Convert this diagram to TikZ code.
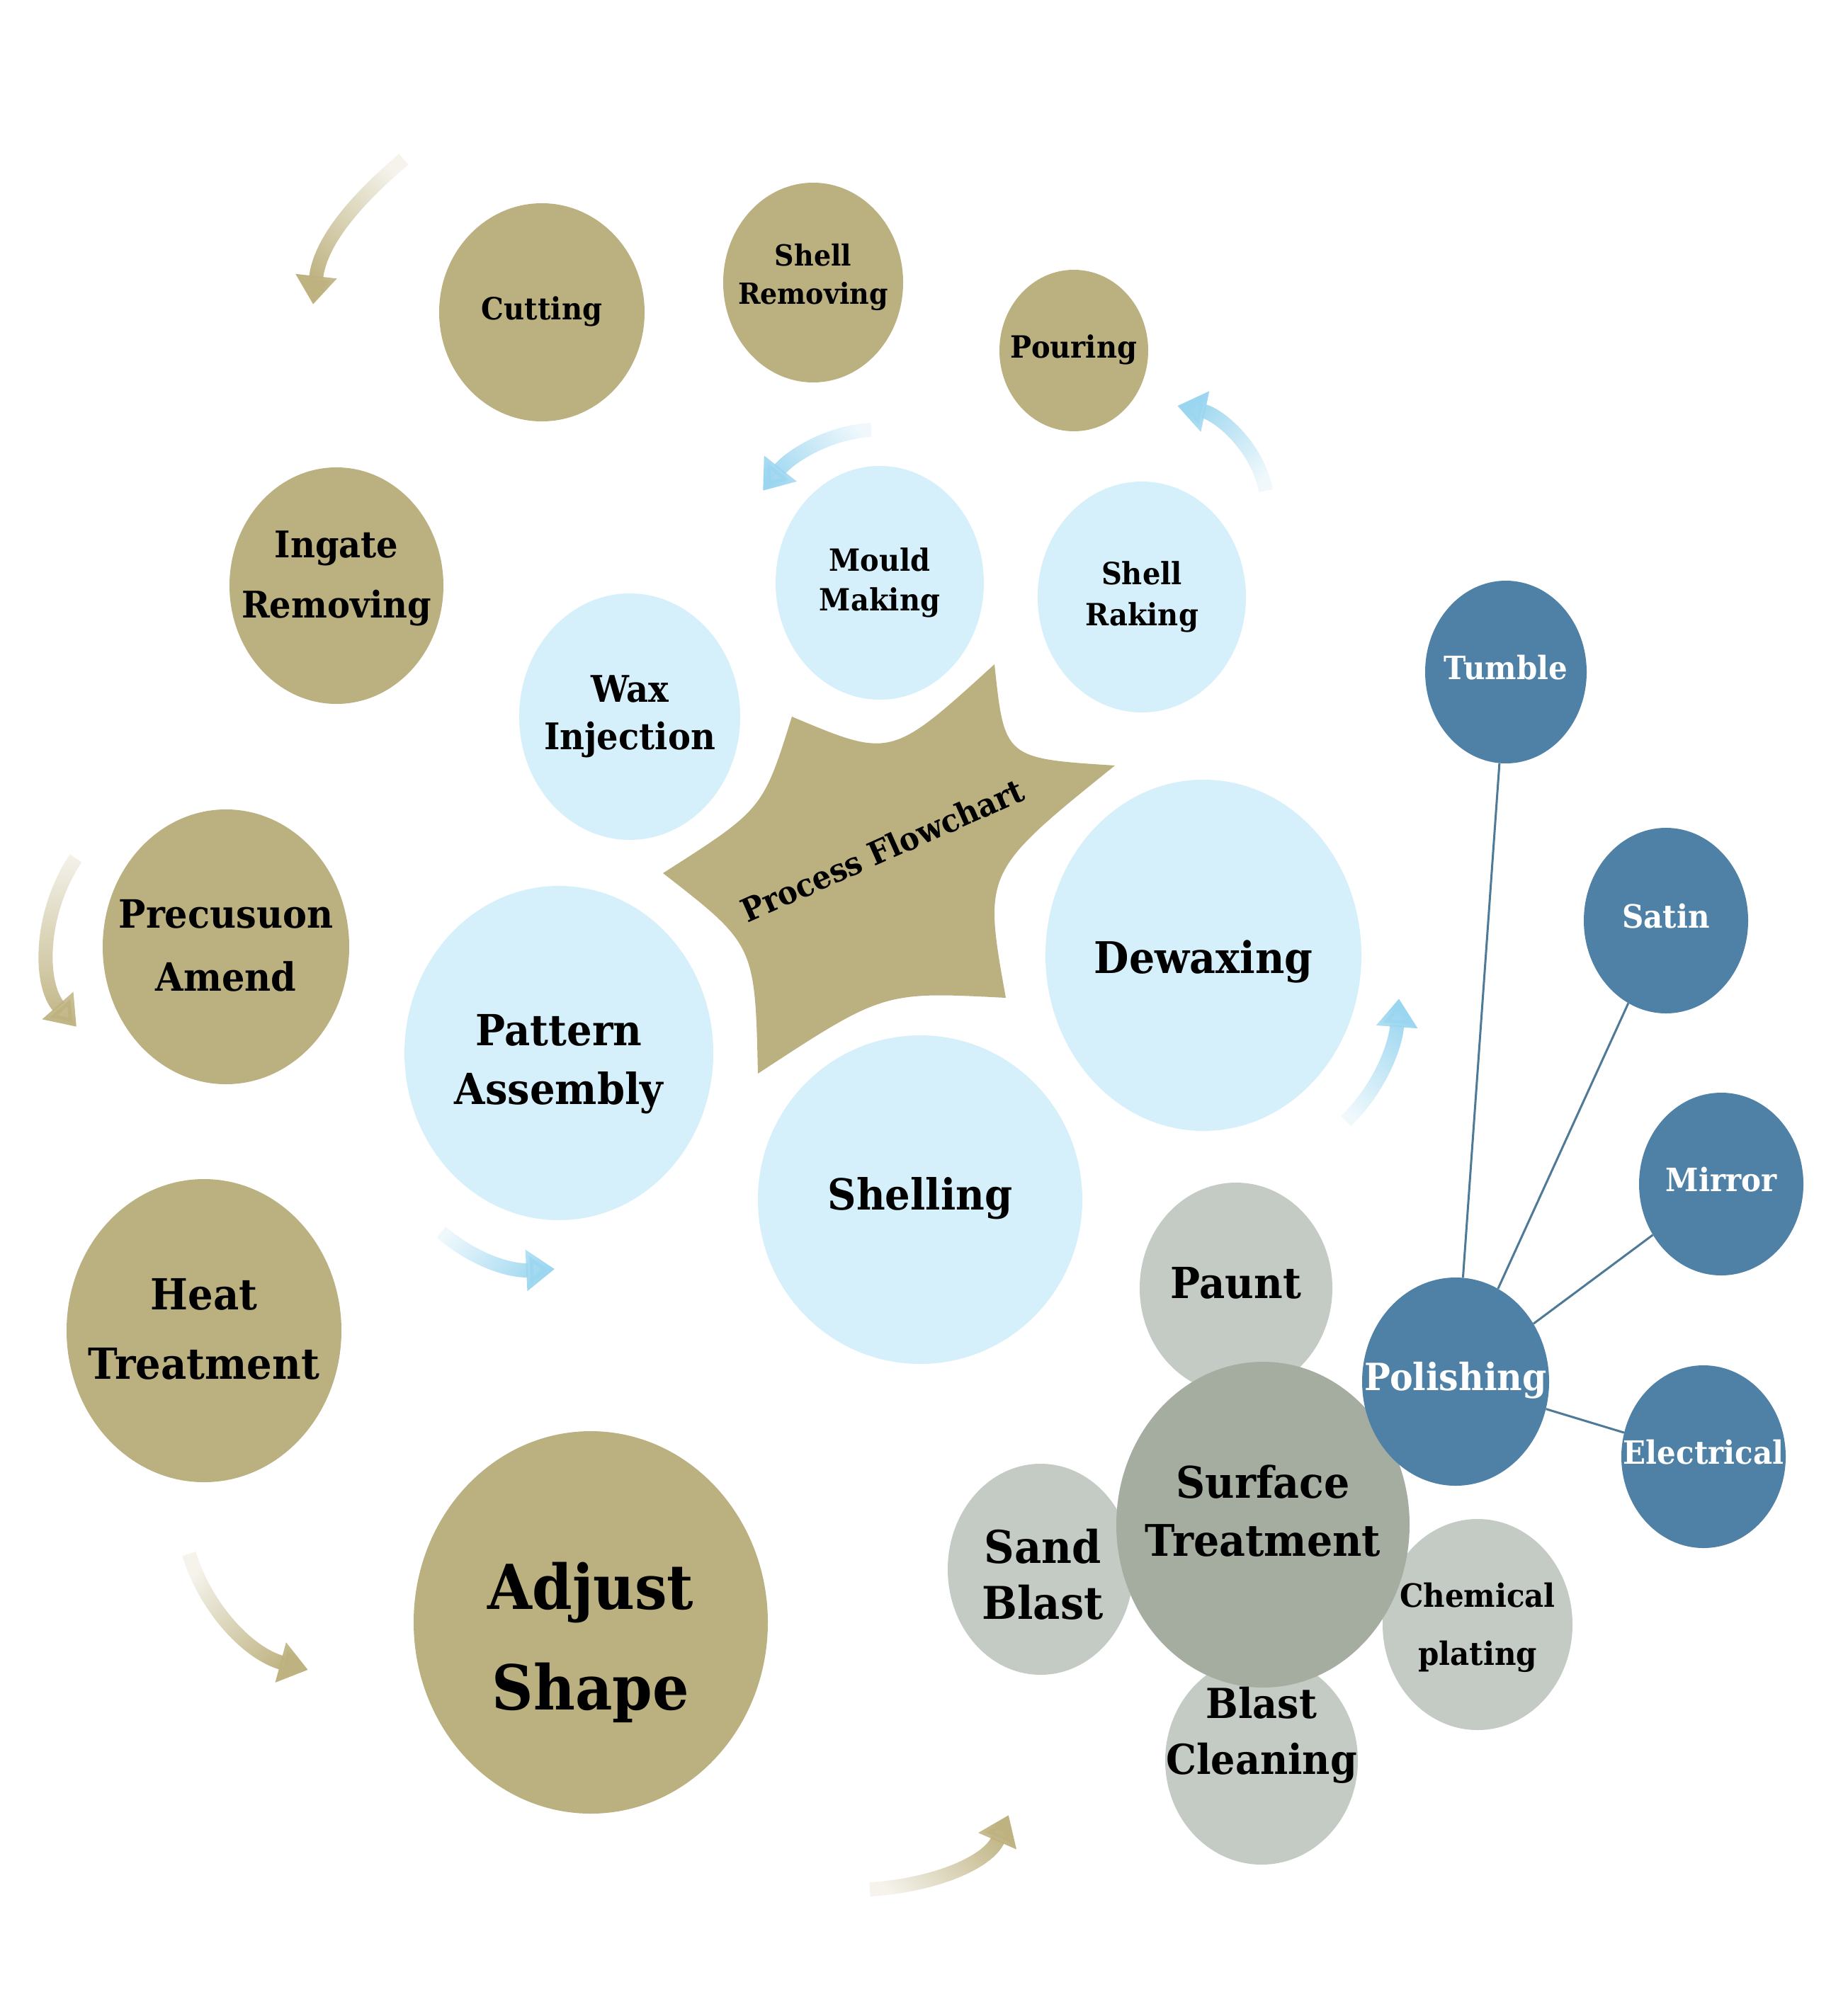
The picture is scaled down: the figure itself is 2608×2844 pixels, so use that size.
\documentclass[tikz,border=0pt]{standalone}
\usepackage{fontspec}
\setmainfont{DejaVu Serif}
\usetikzlibrary{shapes.geometric,arrows.meta,fadings,calc}
\definecolor{tanfill}{RGB}{187,176,127}
\definecolor{lblue}{RGB}{213,240,250}
\definecolor{steel}{RGB}{79,129,166}
\definecolor{steelline}{RGB}{78,122,152}
\definecolor{sgrey}{RGB}{196,203,196}
\definecolor{dgrey}{RGB}{165,173,160}
\definecolor{tanarrow}{RGB}{190,178,128}
\definecolor{bluearrow}{RGB}{155,214,240}
\tikzfading[name=tailfade, left color=transparent!85, middle color=transparent!0, right color=transparent!0]
\newcommand\txt[3]{{\fontsize{#1}{#2}\selectfont\scalebox{1}[1.08]{\begin{tabular}{@{}c@{}}#3\end{tabular}}}}
\begin{document}
\begin{tikzpicture}[x=1pt,y=-1pt,
  bub/.style={ellipse, inner sep=0pt, draw=none},
  tanb/.style={bub, fill=tanfill},
  blueb/.style={bub, fill=lblue},
  steelb/.style={bub, fill=steel},
  sgreyb/.style={bub, fill=sgrey},
  dgreyb/.style={bub, fill=dgrey},
  lbl/.style={inner sep=0pt, align=center, font=\bfseries, text=black},
  wlbl/.style={lbl, text=white},
  tanarr/.style={draw=tanarrow, line width=20pt, -{Triangle[length=40pt,width=56pt]}, path fading=tailfade},
  bluearr/.style={draw=bluearrow, line width=20pt, -{Triangle[length=40pt,width=56pt]}, path fading=tailfade},
  spoke/.style={draw=steelline, line width=3pt}
]
\fill[white] (0,0) rectangle (2608,2844);
\useasboundingbox (0,0) rectangle (2608,2844);

% arrows
\coordinate (a1s) at (570,225);  \coordinate (a1e) at (442,430);
\coordinate (a2s) at (107,1212); \coordinate (a2e) at (108,1450);
\coordinate (a3s) at (267,2194); \coordinate (a3e) at (435,2358);
\coordinate (a4s) at (1228,2668); \coordinate (a4e) at (1424,2563);
\coordinate (b1s) at (1230,607); \coordinate (b1e) at (1077,693);
\coordinate (b2s) at (1787,693); \coordinate (b2e) at (1662,573);
\coordinate (b3s) at (623,1740); \coordinate (b3e) at (783,1792);
\coordinate (b4s) at (1900,1583); \coordinate (b4e) at (1975,1410);

\draw[tanarr, fading angle=238] (a1s) .. controls (505,280) and (452,340) .. (a1e);
\draw[tanarr, fading angle=270] (a2s) .. controls (55,1290) and (55,1390) .. (a2e);
\draw[tanarr, fading angle=316] (a3s) .. controls (290,2270) and (350,2335) .. (a3e);
\draw[tanarr, fading angle=28] (a4s) .. controls (1320,2662) and (1395,2630) .. (a4e);
\draw[bluearr, fading angle=208] (b1s) .. controls (1170,610) and (1115,645) .. (b1e);
\draw[bluearr, fading angle=137] (b2s) .. controls (1775,630) and (1720,585) .. (b2e);
\draw[bluearr, fading angle=343] (b3s) .. controls (670,1780) and (720,1795) .. (b3e);
\draw[bluearr, fading angle=66] (b4s) .. controls (1945,1540) and (1970,1480) .. (b4e);

% star
\coordinate (s1) at (1404,938);
\coordinate (s2) at (1574,1081);
\coordinate (s3) at (1420,1409);
\coordinate (s4) at (1070,1516);
\coordinate (s5) at (936,1233);
\coordinate (s6) at (1118,1012);
\fill[tanfill] (s1) .. controls (1418,1071) .. (s2) .. controls (1388,1231) .. (s3)
  .. controls (1247,1400) .. (s4) .. controls (1066,1334) .. (s5)
  .. controls (1077,1143) .. (s6) .. controls (1258,1071) .. (s1) -- cycle;
\node[lbl, rotate=24] (tpf) at (1248,1206) {\txt{42}{50}{Process Flowchart}};

% tan circles
\node[tanb, minimum width=290pt, minimum height=308pt] (cut) at (765,441) {};
\node[tanb, minimum width=254pt, minimum height=282pt] (shr) at (1148,399) {};
\node[tanb, minimum width=210pt, minimum height=228pt] (pour) at (1516,495) {};
\node[tanb, minimum width=302pt, minimum height=334pt] (ing) at (475,827) {};
\node[tanb, minimum width=348pt, minimum height=388pt] (prec) at (319,1337) {};
\node[tanb, minimum width=388pt, minimum height=428pt] (heat) at (288,1879) {};
\node[tanb, minimum width=500pt, minimum height=540pt] (adj) at (834,2291) {};

% light blue circles
\node[blueb, minimum width=294pt, minimum height=330pt] (mould) at (1242,823) {};
\node[blueb, minimum width=294pt, minimum height=326pt] (rak) at (1612,843) {};
\node[blueb, minimum width=312pt, minimum height=348pt] (wax) at (889,1012) {};
\node[blueb, minimum width=446pt, minimum height=496pt] (dew) at (1699,1349) {};
\node[blueb, minimum width=436pt, minimum height=472pt] (pat) at (789,1487) {};
\node[blueb, minimum width=458pt, minimum height=464pt] (shel) at (1299,1694) {};

% surface treatment group
\node[sgreyb, minimum width=272pt, minimum height=298pt] (paunt) at (1745,1819) {};
\node[sgreyb, minimum width=262pt, minimum height=298pt] (sand) at (1469,2216) {};
\node[sgreyb, minimum width=268pt, minimum height=298pt] (chem) at (2086,2294) {};
\node[sgreyb, minimum width=272pt, minimum height=294pt] (bcl) at (1781,2486) {};
\node[dgreyb, minimum width=414pt, minimum height=460pt] (surf) at (1783,2153) {};

% polishing group
\node[steelb, minimum width=228pt, minimum height=258pt] (tum) at (2126,949) {};
\node[steelb, minimum width=232pt, minimum height=262pt] (sat) at (2352,1300) {};
\node[steelb, minimum width=232pt, minimum height=258pt] (mir) at (2430,1672) {};
\node[steelb, minimum width=232pt, minimum height=258pt] (elec) at (2405,2057) {};
\node[steelb, minimum width=264pt, minimum height=294pt] (pol) at (2055,1951) {};
\draw[spoke] (pol) -- (tum);
\draw[spoke] (pol) -- (sat);
\draw[spoke] (pol) -- (mir);
\draw[spoke] (pol) -- (elec);

% labels
\node[lbl] (tcut) at (cut) {\txt{40}{48}{Cutting}};
\node[lbl] (tshr) at ($(shr)+(0,-7)$) {\txt{38}{50}{Shell\\Removing}};
\node[lbl] (tpour) at (pour) {\txt{40}{48}{Pouring}};
\node[lbl] (ting) at ($(ing)+(0,-14)$) {\txt{48}{79}{Ingate\\Removing}};
\node[lbl] (tmould) at (mould) {\txt{40}{52}{Mould\\Making}};
\node[lbl] (trak) at (rak) {\txt{40}{54}{Shell\\Raking}};
\node[lbl] (twax) at (wax) {\txt{48}{62}{Wax\\Injection}};
\node[wlbl] (ttum) at (tum) {\txt{42}{50}{Tumble}};
\node[wlbl] (tsat) at (sat) {\txt{42}{50}{Satin}};
\node[lbl] (tprec) at (prec) {\txt{51}{82}{Precusuon\\Amend}};
\node[lbl] (tdew) at ($(dew)+(0,11)$) {\txt{57}{68}{Dewaxing}};
\node[lbl] (tpat) at ($(pat)+(0,14)$) {\txt{56}{77}{Pattern\\Assembly}};
\node[lbl] (tshel) at (shel) {\txt{56}{67}{Shelling}};
\node[wlbl] (tmir) at (mir) {\txt{42}{50}{Mirror}};
\node[lbl] (theat) at (heat) {\txt{56}{91}{Heat\\Treatment}};
\node[lbl] (tpaunt) at (paunt) {\txt{56}{67}{Paunt}};
\node[wlbl] (tpol) at (pol) {\txt{49}{59}{Polishing}};
\node[wlbl] (telec) at (elec) {\txt{42}{50}{Electrical}};
\node[lbl] (tsurf) at ($(surf)+(0,-13)$) {\txt{57}{76}{Surface\\Treatment}};
\node[lbl] (tsand) at ($(sand)+(3,15)$) {\txt{59}{74}{Sand\\Blast}};
\node[lbl] (tchem) at (chem) {\txt{42}{76}{Chemical\\plating}};
\node[lbl] (tbcl) at ($(bcl)+(0,-36)$) {\txt{54}{74}{Blast\\Cleaning}};
\node[lbl] (tadj) at ($(adj)+(0,24)$) {\txt{81}{132}{Adjust\\Shape}};
\end{tikzpicture}
\end{document}
